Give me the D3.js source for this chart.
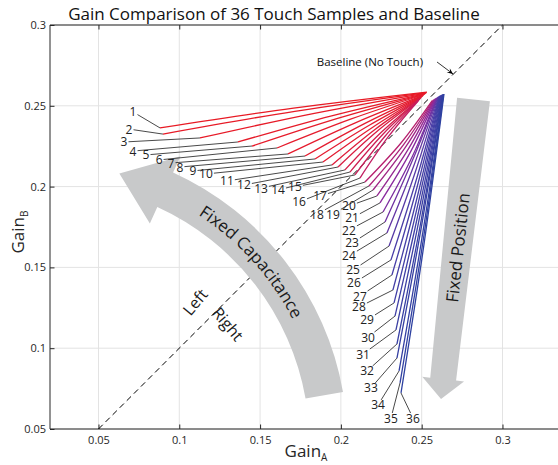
<!DOCTYPE html>
<html>
<head>
<meta charset="utf-8">
<script src="https://cdn.jsdelivr.net/npm/d3@7"></script>
<style>
  html, body { margin: 0; padding: 0; background: #fff; }
  svg { display: block; font-family: "Open Sans", sans-serif; }
</style>
</head>
<body>
<svg id="chart" width="558" height="465"></svg>
<script>
// ---- data -------------------------------------------------------------
const sampleIds = d3.range(1, 37);

// Gain pair at the start of each touch trajectory (near the baseline point)
const startA = [0.2533,0.2530,0.2527,0.2522,0.2519,0.2515,0.2512,0.2508,0.2505,0.2500,0.2497,0.2494,
                0.2490,0.2486,0.2482,0.2478,0.2565,0.2572,0.2578,0.2583,0.2588,0.2592,0.2597,0.2601,
                0.2605,0.2609,0.2612,0.2615,0.2618,0.2622,0.2625,0.2628,0.2630,0.2633,0.2635,0.2638];
const startB = [0.2585,0.2582,0.2579,0.2576,0.2573,0.2570,0.2566,0.2563,0.2560,0.2556,0.2552,0.2548,
                0.2544,0.2540,0.2535,0.2530,0.2532,0.2536,0.2540,0.2543,0.2546,0.2549,0.2552,0.2555,
                0.2557,0.2559,0.2561,0.2563,0.2565,0.2566,0.2568,0.2569,0.2570,0.2571,0.2572,0.2573];
// Intermediate gain pair along each trajectory
const midA = [0.1707,0.1715,0.1828,0.1943,0.1985,0.2060,0.2093,0.2143,0.2173,0.2195,0.2213,0.2230,
              0.2250,0.2263,0.2277,0.2290,0.2372,0.2388,0.2404,0.2418,0.2430,0.2442,0.2445,0.2453,
              0.2462,0.2470,0.2474,0.2479,0.2484,0.2489,0.2493,0.2498,0.2499,0.2507,0.2511,0.2515];
const midB = [0.2486,0.2466,0.2452,0.2438,0.2424,0.2417,0.2396,0.2388,0.2378,0.2366,0.2355,0.2347,
              0.2336,0.2327,0.2316,0.2304,0.2270,0.2260,0.2250,0.2233,0.2213,0.2186,0.2167,0.2134,
              0.2095,0.2053,0.2007,0.1962,0.1923,0.1883,0.1841,0.1798,0.1755,0.1715,0.1679,0.1648];
// Gain pair at the end of each trajectory (the labelled end)
const endA = [0.0881,0.0899,0.1128,0.1363,0.1450,0.1605,0.1673,0.1778,0.1840,0.1889,0.1945,0.1982,
              0.2025,0.2056,0.2087,0.2118,0.2149,0.2174,0.2199,0.2223,0.2242,0.2261,0.2273,0.2285,
              0.2298,0.2310,0.2316,0.2322,0.2329,0.2335,0.2341,0.2347,0.2347,0.2360,0.2366,0.2372];
const endB = [0.2363,0.2325,0.2301,0.2276,0.2251,0.2239,0.2202,0.2189,0.2171,0.2152,0.2134,0.2121,
              0.2103,0.2090,0.2072,0.2053,0.2028,0.2004,0.1979,0.1942,0.1899,0.1843,0.1781,0.1713,
              0.1632,0.1546,0.1453,0.1360,0.1280,0.1199,0.1113,0.1026,0.0939,0.0859,0.0785,0.0723];

// Where each sample number is written (gain coordinates)
const labelA = [0.0714,0.0689,0.0658,0.0714,0.0794,0.0875,0.0949,0.1004,0.1085,0.1165,0.1295,0.1400,
                0.1506,0.1611,0.1716,0.1741,0.1871,0.1852,0.1951,0.2050,0.2069,0.2050,0.2069,0.2050,
                0.2075,0.2081,0.2118,0.2112,0.2162,0.2168,0.2137,0.2162,0.2186,0.2230,0.2310,0.2446];
const labelB = [0.2462,0.2356,0.2276,0.2220,0.2196,0.2165,0.2146,0.2121,0.2097,0.2078,0.2035,0.2010,
                0.1991,0.1979,0.1998,0.1905,0.1942,0.1830,0.1830,0.1880,0.1806,0.1731,0.1651,0.1571,
                0.1484,0.1404,0.1323,0.1255,0.1175,0.1069,0.0964,0.0859,0.0754,0.0649,0.0568,0.0568];

const baselineGain = [0.05, 0.3];             // no-touch reference: GainA == GainB
const baselinePointer = { tail: [0.2595, 0.2771], head: [0.2694, 0.2697] };
const xTicks = [0.05, 0.1, 0.15, 0.2, 0.25, 0.3];
const yTicks = [0.05, 0.1, 0.15, 0.2, 0.25, 0.3];

// ---- layout -----------------------------------------------------------
const svg = d3.select("#chart");
const W = 558, H = 465;
const plot = { left: 50, top: 25, bottom: 429 };
const pxPerUnit = (plot.bottom - plot.top) / 0.25;

const x = d3.scaleLinear().domain([0.02, 0.337]).range([plot.left, plot.left + 0.317 * pxPerUnit]);
const y = d3.scaleLinear().domain([0.05, 0.3]).range([plot.bottom, plot.top]);

const axisColor = "#262626";
const gray = "#c8c9ca";

svg.append("rect").attr("width", W).attr("height", H).attr("fill", "#fff");

svg.append("clipPath").attr("id", "plotClip")
  .append("rect").attr("x", plot.left).attr("y", plot.top)
  .attr("width", W - plot.left).attr("height", plot.bottom - plot.top);

// grid
const grid = svg.append("g").attr("stroke", "#e3e3e3").attr("stroke-width", 1);
xTicks.forEach(t => grid.append("line")
  .attr("x1", x(t)).attr("x2", x(t)).attr("y1", plot.top).attr("y2", plot.bottom));
yTicks.forEach(t => grid.append("line")
  .attr("x1", plot.left).attr("x2", W).attr("y1", y(t)).attr("y2", y(t)));

// axes (box with inward ticks)
const fmt = v => String(+v.toFixed(2));
const xAxis = svg.append("g").attr("transform", `translate(0,${plot.bottom})`)
  .call(d3.axisBottom(x).tickValues(xTicks).tickFormat(fmt).tickSize(-4.5).tickPadding(7));
const xTop = svg.append("g").attr("transform", `translate(0,${plot.top})`)
  .call(d3.axisTop(x).tickValues(xTicks).tickFormat("").tickSize(-4.5));
const yAxis = svg.append("g").attr("transform", `translate(${plot.left},0)`)
  .call(d3.axisLeft(y).tickValues(yTicks).tickFormat(fmt).tickSize(-4.5).tickPadding(4));
[xAxis, xTop, yAxis].forEach(g => {
  g.select(".domain").attr("stroke", axisColor).attr("stroke-width", 1);
  g.selectAll(".tick line").attr("stroke", axisColor);
  g.selectAll(".tick text").attr("fill", axisColor)
    .style("font-family", "'Open Sans', sans-serif").style("font-size", "11px");
});
yAxis.select(".domain").attr("d", `M0,${plot.bottom}V${plot.top}`);
xAxis.select(".domain").attr("d", `M${plot.left},0H${W + 5}`);
xTop.select(".domain").attr("d", `M${plot.left},0H${W + 5}`);

// baseline (dashed identity line)
svg.append("line")
  .attr("x1", x(baselineGain[0])).attr("y1", y(baselineGain[0]))
  .attr("x2", x(baselineGain[1])).attr("y2", y(baselineGain[1]))
  .attr("stroke", "#000").attr("stroke-width", 1).attr("stroke-dasharray", "6,4");

// trajectories, coloured from red (sample 1) to blue (sample 36)
const color = d3.scaleLinear()
  .domain([1, 10, 16, 21, 26, 36])
  .range(["#e81a24", "#e31c32", "#c21e62", "#8a2a9e", "#4a3ea8", "#2e41a0"])
  .interpolate(d3.interpolateRgb);

const line = d3.line().x(d => x(d[0])).y(d => y(d[1])).curve(d3.curveNatural);
const traj = sampleIds.map((id, i) => ({
  id,
  pts: [[startA[i], startB[i]], [midA[i], midB[i]], [endA[i], endB[i]]]
}));
svg.append("g").attr("clip-path", "url(#plotClip)")
  .selectAll("path").data(traj).join("path")
  .attr("d", d => line(d.pts))
  .attr("fill", "none")
  .attr("stroke", d => color(d.id))
  .attr("stroke-width", 1.3);

// ---- gray direction arrows ------------------------------------------
const deg = Math.PI / 180;
const arc = { cx: 49.5, cy: 443.7, r: 279, half: 19, headHalf: 37 };
const P = (r, a) => [arc.cx + r * Math.cos(a * deg), arc.cy + r * Math.sin(a * deg)];
const aEnd = -10, aBase = -65.5, aTip = -75.5;
{
  const o1 = P(arc.r + arc.half, aEnd), o2 = P(arc.r + arc.half, aBase);
  const h1 = P(arc.r + arc.headHalf, aBase), tip = P(arc.r, aTip), h2 = P(arc.r - arc.headHalf, aBase);
  const i2 = P(arc.r - arc.half, aBase), i1 = P(arc.r - arc.half, aEnd);
  const d = `M${o1}A${arc.r + arc.half},${arc.r + arc.half} 0 0 0 ${o2}` +
            `L${h1}L${tip}L${h2}L${i2}` +
            `A${arc.r - arc.half},${arc.r - arc.half} 0 0 1 ${i1}Z`;
  svg.append("path").attr("d", d).attr("fill", gray);

  const tr = arc.r - 6;
  const t1 = P(tr, -72), t2 = P(tr, -12);
  svg.append("path").attr("id", "capPath").attr("fill", "none")
    .attr("d", `M${t1}A${tr},${tr} 0 0 1 ${t2}`);
  svg.append("text").attr("font-size", 17).attr("fill", "#1a1a1a")
    .append("textPath").attr("href", "#capPath")
    .attr("startOffset", "50%").attr("text-anchor", "middle")
    .text("Fixed Capacitance");
}
{
  // straight arrow pointing down the Fixed Position direction
  const top = [473.5, 99.5], tip = [441, 399];
  const L = Math.hypot(tip[0] - top[0], tip[1] - top[1]);
  const u = [(tip[0] - top[0]) / L, (tip[1] - top[1]) / L];
  const n = [u[1], -u[0]];
  const add = (p, v, s) => [p[0] + v[0] * s, p[1] + v[1] * s];
  const base = add(tip, u, -20);
  const poly = [add(top, n, -16.5), add(top, n, 16.5), add(base, n, 13), add(base, n, 21), tip,
                add(base, n, -21), add(base, n, -13)];
  svg.append("path").attr("d", "M" + poly.join("L") + "Z").attr("fill", gray);

  const mid = add(top, u, 149);
  const ang = Math.atan2(-u[1], -u[0]) / deg;
  svg.append("text").attr("font-size", 17).attr("fill", "#1a1a1a")
    .attr("text-anchor", "middle").attr("dominant-baseline", "central")
    .attr("transform", `translate(${mid[0]},${mid[1]}) rotate(${ang})`)
    .text("Fixed Position");
}

// Left / Right side markers for the identity line
svg.append("text").attr("font-size", 16).attr("fill", "#1a1a1a")
  .attr("text-anchor", "middle").attr("dominant-baseline", "central")
  .attr("transform", "translate(195,302) rotate(-50)").text("Left");
svg.append("text").attr("font-size", 16).attr("fill", "#1a1a1a")
  .attr("text-anchor", "middle").attr("dominant-baseline", "central")
  .attr("transform", "translate(228,324) rotate(50)").text("Right");

// ---- sample labels with leader lines ---------------------------------
const labels = svg.append("g");
sampleIds.forEach((id, i) => {
  const cx = x(labelA[i]), cy = y(labelB[i]);
  const ex = x(endA[i]), ey = y(endB[i]);
  const t = labels.append("text").attr("x", cx).attr("y", cy)
    .attr("text-anchor", "middle").attr("dominant-baseline", "central")
    .attr("font-size", 12).attr("fill", "#222").text(id);
  const bb = t.node().getBBox();
  const hw = bb.width / 2 + 1, hh = 5;
  const dx = ex - cx, dy = ey - cy;
  const s = Math.min(dx !== 0 ? hw / Math.abs(dx) : Infinity, dy !== 0 ? hh / Math.abs(dy) : Infinity);
  labels.append("line")
    .attr("x1", cx + dx * s).attr("y1", cy + dy * s)
    .attr("x2", ex).attr("y2", ey)
    .attr("stroke", "#1a1a1a").attr("stroke-width", 0.8);
});

// ---- baseline pointer ------------------------------------------------
{
  const tx = x(baselinePointer.tail[0]), ty = y(baselinePointer.tail[1]);
  const hx = x(baselinePointer.head[0]), hy = y(baselinePointer.head[1]);
  svg.append("line").attr("x1", tx).attr("y1", ty).attr("x2", hx).attr("y2", hy)
    .attr("stroke", "#000").attr("stroke-width", 0.8);
  const a = Math.atan2(hy - ty, hx - tx);
  const hl = 6, hwid = 2.6;
  const bx = hx - hl * Math.cos(a), by = hy - hl * Math.sin(a);
  const headPts = [[hx, hy],
    [bx + hwid * Math.sin(a), by - hwid * Math.cos(a)],
    [hx - hl * 0.6 * Math.cos(a), hy - hl * 0.6 * Math.sin(a)],
    [bx - hwid * Math.sin(a), by + hwid * Math.cos(a)]];
  svg.append("path").attr("d", "M" + headPts.join("L") + "Z").attr("fill", "#000");
  svg.append("text").attr("x", tx - 14).attr("y", ty - 1)
    .attr("text-anchor", "end").attr("dominant-baseline", "central")
    .attr("font-size", 11.5).attr("fill", "#111").text("Baseline (No Touch)");
}

// ---- titles ----------------------------------------------------------
svg.append("text").attr("x", 274).attr("y", 13)
  .attr("text-anchor", "middle").attr("dominant-baseline", "central")
  .attr("font-size", 17).attr("fill", "#111")
  .text("Gain Comparison of 36 Touch Samples and Baseline");

const xl = svg.append("text").attr("x", 306).attr("y", 457)
  .attr("text-anchor", "middle").attr("font-size", 17).attr("fill", axisColor);
xl.append("tspan").text("Gain");
xl.append("tspan").attr("font-size", 10).attr("dy", 4).text("A");

const yl = svg.append("text").attr("transform", "translate(24,232) rotate(-90)")
  .attr("text-anchor", "middle").attr("font-size", 17).attr("fill", axisColor);
yl.append("tspan").text("Gain");
yl.append("tspan").attr("font-size", 10).attr("dy", 4).text("B");
</script>
</body>
</html>
